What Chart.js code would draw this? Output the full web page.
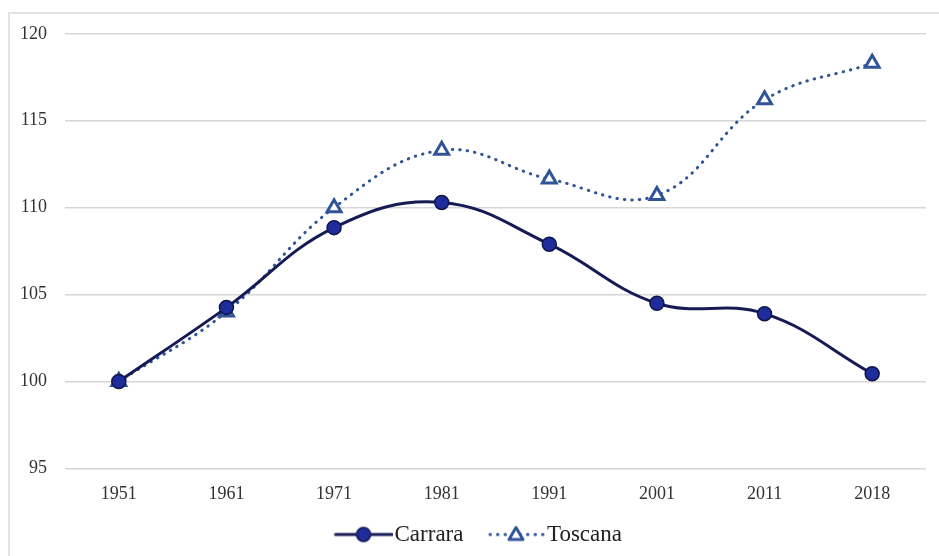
<!DOCTYPE html>
<html>
<head>
<meta charset="utf-8">
<script src="https://cdn.jsdelivr.net/npm/chart.js@4/dist/chart.umd.min.js"></script>
<style>
  html, body { margin: 0; padding: 0; background: #ffffff; overflow: hidden; }
  body { width: 939px; height: 556px; position: relative; }
  #frame {
    position: absolute; left: 8px; top: 12px; width: 940px; height: 560px;
    border: 2px solid #e2e2e2; box-sizing: border-box; background: #fff;
  }
  #wrap { position: absolute; left: 0; top: -9px; width: 931px; height: 554px; }
</style>
</head>
<body>
<div id="frame"><div id="wrap"><canvas id="c" width="931" height="554"></canvas></div></div>
<script>
// Population index (1951 = 100)
const years = ['1951', '1961', '1971', '1981', '1991', '2001', '2011', '2018'];
const carrara = [100, 104.25, 108.85, 110.3, 107.9, 104.5, 103.9, 100.45];
const toscana = [100, 104.0, 110.0, 113.3, 111.65, 110.7, 116.2, 118.3];
const yTicks = [95, 100, 105, 110, 115, 120];

const navy = '#161a55';
const dotFill = '#1f2d9c';
const blue = '#2f5597';
const serif = '"Liberation Serif", "DejaVu Serif", serif';

// Legend swatches: line + marker, like the series they stand for.
// A transparent left margin keeps the two legend entries apart.
const SW_MARGIN = 30;
function swatch(kind) {
  const c = document.createElement('canvas');
  c.width = 58 + SW_MARGIN; c.height = 20;
  const g = c.getContext('2d');
  g.translate(SW_MARGIN, 0);
  g.lineCap = 'round';
  if (kind === 'solid') {
    g.strokeStyle = navy; g.lineWidth = 3;
    g.beginPath(); g.moveTo(1, 10); g.lineTo(57, 10); g.stroke();
    g.beginPath(); g.arc(29, 10, 7, 0, Math.PI * 2);
    g.fillStyle = dotFill; g.fill();
    g.lineWidth = 1.5; g.strokeStyle = '#10164a'; g.stroke();
  } else {
    g.strokeStyle = blue; g.lineWidth = 3;
    g.setLineDash([0.5, 7]);
    g.beginPath(); g.moveTo(3, 10); g.lineTo(56, 10); g.stroke();
    g.setLineDash([]);
    g.fillStyle = '#fff';
    g.beginPath(); g.moveTo(29, 3); g.lineTo(36, 15); g.lineTo(22, 15); g.closePath();
    g.fill(); g.lineWidth = 3; g.lineJoin = 'round'; g.strokeStyle = blue; g.stroke();
  }
  return c;
}
const legendImgs = [swatch('solid'), swatch('dotted')];

new Chart(document.getElementById('c'), {
  type: 'line',
  data: {
    labels: years,
    datasets: [
      {
        label: 'Carrara',
        data: carrara,
        borderColor: navy,
        borderWidth: 3,
        tension: 0.4,
        pointStyle: 'circle',
        pointRadius: 7,
        pointBackgroundColor: dotFill,
        pointBorderColor: '#10164a',
        pointBorderWidth: 1.5
      },
      {
        label: 'Toscana',
        data: toscana,
        borderColor: blue,
        borderWidth: 3,
        borderDash: [0.5, 7],
        borderCapStyle: 'round',
        tension: 0.4,
        pointStyle: 'triangle',
        pointRadius: 8,
        pointBackgroundColor: '#ffffff',
        pointBorderColor: blue,
        pointBorderWidth: 3
      }
    ]
  },
  options: {
    responsive: false,
    animation: false,
    devicePixelRatio: 1,
    layout: { padding: { left: 0, right: 15, top: 5, bottom: 3 } },
    scales: {
      x: {
        offset: true,
        grid: { display: false, drawTicks: false },
        border: { display: false },
        ticks: { color: '#333', font: { family: serif, size: 18 }, padding: 15, maxRotation: 0 }
      },
      y: {
        min: 95, max: 120,
        afterBuildTicks: (s) => { s.ticks = yTicks.map(v => ({ value: v })); },
        afterFit: (s) => { s.width = 55; },
        grid: { color: '#d6d6d6', lineWidth: 1.5, drawTicks: false },
        border: { display: false },
        ticks: { color: '#333', font: { family: serif, size: 18 }, padding: 18 }
      }
    },
    plugins: {
      tooltip: { enabled: false },
      legend: {
        position: 'bottom',
        labels: {
          usePointStyle: true,
          pointStyleWidth: 69,
          boxHeight: 20,
          padding: 3,
          color: '#222',
          font: { family: serif, size: 23 },
          generateLabels: (chart) => {
            const items = Chart.defaults.plugins.legend.labels.generateLabels(chart);
            items.forEach((it, i) => { it.pointStyle = legendImgs[i]; it.rotation = 0; });
            return items;
          }
        }
      }
    }
  }
});
</script>
</body>
</html>
